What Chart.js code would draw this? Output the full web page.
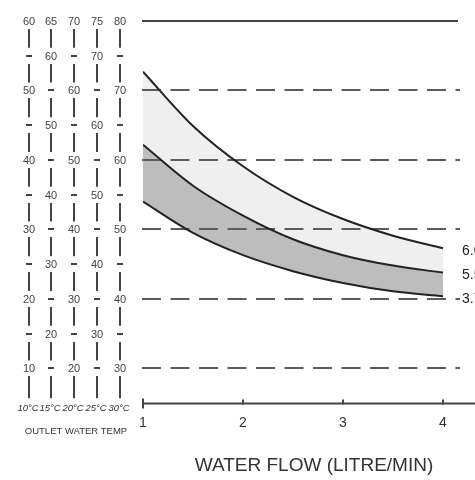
<!DOCTYPE html>
<html>
<head>
<meta charset="utf-8">
<script src="https://cdn.jsdelivr.net/npm/chart.js@4.4.1/dist/chart.umd.min.js"></script>
<style>
  body { margin: 0; background: #fff; }
</style>
</head>
<body>
<canvas id="myChart" width="475" height="480"></canvas>
<script>
// water flow (litre/min) on x, temperature rise on y
const flowRates = [1, 1.5, 2, 2.5, 3, 3.5, 4];
const rise60kw = [42.7, 34.9, 29.1, 24.7, 21.5, 19.1, 17.3];
const rise55kw = [32.2, 26.3, 22.0, 18.6, 16.3, 14.8, 13.8];
const rise37kw = [24.0, 19.5, 16.3, 14.0, 12.3, 11.1, 10.4];
const powerLabels = ['6.0kW', '5.5kW', '3.7kW'];

const inletTemps = [10, 15, 20, 25, 30];
const riseSteps = [0, 5, 10, 15, 20, 25, 30, 35, 40, 45, 50];
const gridValues = [0, 10, 20, 30, 40];
const topValue = 50;
const flowTicks = [1, 2, 3, 4];

const colX = [29, 51, 74, 97, 120];

function toPoints(vals) {
  return flowRates.map((f, i) => ({ x: f, y: vals[i] }));
}

const overlay = {
  id: 'overlay',
  beforeDatasetsDraw(chart) {
    const { ctx, chartArea } = chart;
    const y = chart.scales.y;
    ctx.save();
    ctx.strokeStyle = '#5c5c5c';
    ctx.lineWidth = 2;
    ctx.setLineDash([19, 9.5]);
    gridValues.forEach(v => {
      const py = Math.round(y.getPixelForValue(v));
      ctx.beginPath();
      ctx.moveTo(chartArea.left - 1, py);
      ctx.lineTo(chartArea.right, py);
      ctx.stroke();
    });
    ctx.setLineDash([]);
    ctx.strokeStyle = '#444';
    const ty = Math.round(y.getPixelForValue(topValue));
    ctx.beginPath();
    ctx.moveTo(chartArea.left - 1, ty);
    ctx.lineTo(chartArea.right - 2, ty);
    ctx.stroke();
    ctx.restore();
  },
  afterDraw(chart) {
    const { ctx, chartArea } = chart;
    const x = chart.scales.x;
    const y = chart.scales.y;
    ctx.save();

    // x axis line + ticks
    const by = Math.round(chartArea.bottom) + 0.5;
    ctx.strokeStyle = '#444';
    ctx.lineWidth = 2;
    ctx.beginPath();
    ctx.moveTo(chartArea.left - 1, by);
    ctx.lineTo(chart.width, by);
    ctx.stroke();
    flowTicks.forEach((t, i) => {
      const px = Math.round(x.getPixelForValue(t));
      ctx.beginPath();
      ctx.moveTo(px, i === 0 ? by - 5 : by - 4);
      ctx.lineTo(px, i === 0 ? by + 5 : by + 1);
      ctx.stroke();
    });

    ctx.fillStyle = '#333';
    ctx.font = '19px "Liberation Sans", Arial, sans-serif';
    ctx.textAlign = 'center';
    ctx.textBaseline = 'middle';
    ctx.fillText('WATER FLOW (LITRE/MIN)', 314, 466);

    // outlet temperature columns
    const bottom = y.getPixelForValue(y.min) - 5;
    inletTemps.forEach((t, i) => {
      const cx = colX[i];
      ctx.fillStyle = '#444';
      ctx.font = '11px "Liberation Sans Narrow", "Liberation Sans", Arial, sans-serif';
      riseSteps.forEach((r, j) => {
        const py = Math.round(y.getPixelForValue(r));
        const out = t + r;
        if (out % 10 === 0 || r === topValue) {
          ctx.fillText(String(out), cx, py + 1);
        } else {
          ctx.fillRect(cx - 3, py - 1, 6, 2);
        }
        const end = j > 0 ? y.getPixelForValue(riseSteps[j - 1]) - 8 : bottom;
        ctx.fillRect(cx - 1, py + 8, 2, end - py - 8);
      });
      ctx.fillStyle = '#333';
      ctx.font = 'italic 9.5px "Liberation Sans", Arial, sans-serif';
      ctx.fillText(t + '°C', cx - 1, 408);
    });
    ctx.font = '9.5px "Liberation Sans", Arial, sans-serif';
    ctx.fillText('OUTLET WATER TEMP', 76, 431);

    // power labels at the end of each curve
    ctx.fillStyle = '#222';
    ctx.font = '14px "Liberation Sans", Arial, sans-serif';
    ctx.textAlign = 'left';
    chart.data.datasets.forEach((ds, i) => {
      const last = ds.data[ds.data.length - 1];
      ctx.fillText(powerLabels[i], x.getPixelForValue(last.x) + 19, y.getPixelForValue(last.y) + 3);
    });
    ctx.restore();
  }
};

new Chart(document.getElementById('myChart'), {
  type: 'line',
  data: {
    datasets: [
      {
        label: powerLabels[0],
        data: toPoints(rise60kw),
        borderColor: '#222',
        borderWidth: 2,
        backgroundColor: '#efefef',
        fill: '+1',
        pointRadius: 0,
        cubicInterpolationMode: 'monotone'
      },
      {
        label: powerLabels[1],
        data: toPoints(rise55kw),
        borderColor: '#222',
        borderWidth: 2,
        backgroundColor: '#bdbdbd',
        fill: '+1',
        pointRadius: 0,
        cubicInterpolationMode: 'monotone'
      },
      {
        label: powerLabels[2],
        data: toPoints(rise37kw),
        borderColor: '#222',
        borderWidth: 2,
        fill: false,
        pointRadius: 0,
        cubicInterpolationMode: 'monotone'
      }
    ]
  },
  options: {
    responsive: false,
    animation: false,
    layout: { padding: { left: 143, right: 15, top: 21, bottom: 44 } },
    plugins: {
      legend: { display: false },
      tooltip: { enabled: false },
      filler: { drawTime: 'beforeDatasetsDraw' }
    },
    scales: {
      x: {
        type: 'linear',
        min: 1,
        max: 4.17,
        grid: { display: false },
        border: { display: false },
        ticks: {
          stepSize: 1,
          includeBounds: false,
          padding: 4,
          color: '#333',
          font: { size: 14, family: '"Liberation Sans", Arial, sans-serif' }
        }
      },
      y: {
        display: false,
        min: -5,
        max: 50
      }
    }
  },
  plugins: [overlay]
});
</script>
</body>
</html>
